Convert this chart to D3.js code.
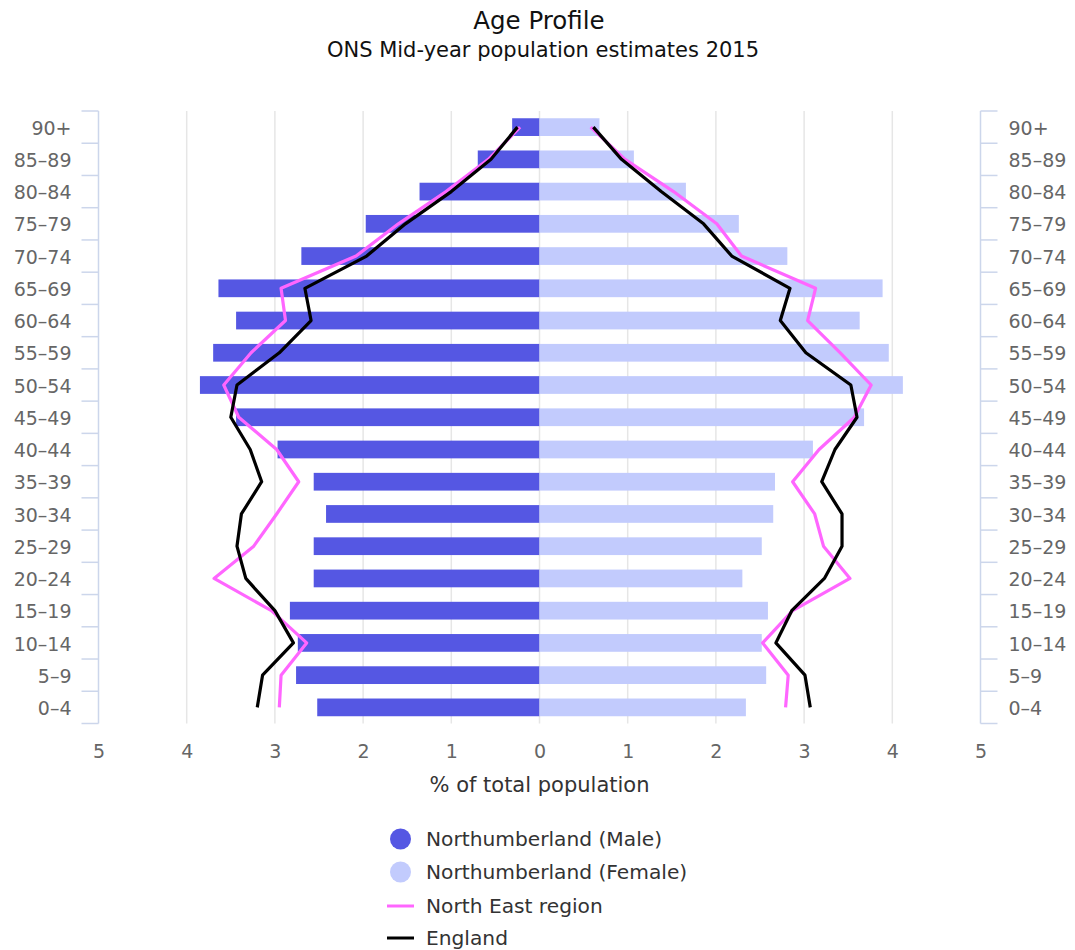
<!DOCTYPE html>
<html><head><meta charset="utf-8">
<script src="https://cdn.jsdelivr.net/npm/d3@7"></script>
<style>body{margin:0;background:#fff;} text{font-family:"DejaVu Sans",sans-serif;}</style>
</head><body>
<svg id="c" width="1075" height="950"></svg>
<script>
const categories = ["0–4","5–9","10–14","15–19","20–24","25–29","30–34","35–39","40–44","45–49","50–54","55–59","60–64","65–69","70–74","75–79","80–84","85–89","90+"];
const maleNorthumberland = [2.52,2.76,2.74,2.83,2.56,2.56,2.42,2.56,2.97,3.44,3.85,3.70,3.44,3.64,2.70,1.97,1.36,0.70,0.31];
const femaleNorthumberland = [2.34,2.57,2.52,2.59,2.30,2.52,2.65,2.67,3.10,3.68,4.12,3.96,3.63,3.89,2.81,2.26,1.66,1.07,0.68];
const maleNorthEast = [2.95,2.93,2.64,3.04,3.69,3.24,2.98,2.73,2.98,3.41,3.58,3.27,2.88,2.93,2.08,1.60,1.06,0.58,0.22];
const femaleNorthEast = [2.79,2.82,2.53,2.87,3.52,3.22,3.12,2.87,3.17,3.57,3.76,3.41,3.04,3.13,2.29,2.01,1.52,0.97,0.58];
const maleEngland = [3.20,3.14,2.79,3.00,3.33,3.43,3.38,3.15,3.28,3.50,3.43,2.95,2.59,2.66,1.96,1.52,1.00,0.55,0.25];
const femaleEngland = [3.07,3.01,2.68,2.86,3.23,3.43,3.43,3.20,3.35,3.60,3.53,3.02,2.73,2.84,2.18,1.86,1.38,0.93,0.61];
const xTicks = [-5,-4,-3,-2,-1,0,1,2,3,4,5];
const legendItems = ["Northumberland (Male)","Northumberland (Female)","North East region","England"];

const colMale="#5557e3", colFemale="#c2cbfd", colNE="#ff66ff", colEng="#000000";
const svg=d3.select("#c");
const L=98.5,R=980.5,T=111,B=723.5;
const x=d3.scaleLinear().domain([-5,5]).range([L,R]);
const y=d3.scaleBand().domain(categories.slice().reverse()).range([T,B]).padding(0);
const bh=y.bandwidth()*0.55;
const yc=c=>y(c)+y.bandwidth()/2;

// gridlines
svg.append("g").selectAll("line").data(xTicks.filter(t=>Math.abs(t)<5)).join("line")
  .attr("x1",d=>x(d)).attr("x2",d=>x(d)).attr("y1",T).attr("y2",B)
  .attr("stroke","#e6e6e6").attr("stroke-width",1.5);

// left axis
const la=svg.append("g").attr("transform",`translate(${x(-5)},1.5)`)
  .call(d3.axisLeft(y).tickSize(0).tickPadding(27));
la.select(".domain").remove();
la.selectAll("text").attr("fill","#666").attr("font-size",19).attr("font-family","DejaVu Sans");
// right axis
const ra=svg.append("g").attr("transform",`translate(${x(5)},1.5)`)
  .call(d3.axisRight(y).tickSize(0).tickPadding(28));
ra.select(".domain").remove();
ra.selectAll("text").attr("fill","#666").attr("font-size",19).attr("font-family","DejaVu Sans");
// axis lines and boundary ticks
const bounds=categories.map(c=>y(c)).concat([B]);
[[x(-5),-17],[x(5),17]].forEach(([ax,dx])=>{
  svg.append("line").attr("x1",ax).attr("x2",ax).attr("y1",T).attr("y2",B).attr("stroke","#ccd6eb").attr("stroke-width",1.5);
  svg.append("g").selectAll("line").data(bounds).join("line")
    .attr("x1",ax).attr("x2",ax+dx).attr("y1",d=>d).attr("y2",d=>d)
    .attr("stroke","#ccd6eb").attr("stroke-width",1.5);
});

// bars
svg.append("g").selectAll("rect").data(categories).join("rect")
  .attr("x",(c,i)=>x(-maleNorthumberland[i])).attr("width",(c,i)=>x(0)-x(-maleNorthumberland[i]))
  .attr("y",c=>yc(c)-bh/2).attr("height",bh).attr("fill",colMale);
svg.append("g").selectAll("rect").data(categories).join("rect")
  .attr("x",x(0)).attr("width",(c,i)=>x(femaleNorthumberland[i])-x(0))
  .attr("y",c=>yc(c)-bh/2).attr("height",bh).attr("fill",colFemale);

// lines
const line=d3.line().x(d=>x(d[0])).y(d=>yc(d[1]));
function drawLine(vals,sign,col){
  svg.append("path").datum(categories.map((c,i)=>[sign*vals[i],c]))
    .attr("d",line).attr("fill","none").attr("stroke",col).attr("stroke-width",3.2)
    .attr("stroke-linejoin","round");
}
drawLine(maleNorthEast,-1,colNE);
drawLine(femaleNorthEast,1,colNE);
drawLine(maleEngland,-1,colEng);
drawLine(femaleEngland,1,colEng);

// bottom axis
const ba=svg.append("g").attr("transform",`translate(0,${B})`)
  .call(d3.axisBottom(x).tickValues(xTicks).tickFormat(d=>Math.abs(d)).tickSize(0).tickPadding(21));
ba.select(".domain").remove();
ba.selectAll("text").attr("fill","#666").attr("font-size",19).attr("font-family","DejaVu Sans");

svg.append("text").attr("x",x(0)).attr("y",792).attr("text-anchor","middle")
  .attr("font-size",21).attr("fill","#333").text("% of total population");

// titles
svg.append("text").attr("x",539).attr("y",29).attr("text-anchor","middle")
  .attr("font-size",24.5).attr("fill","#111").text("Age Profile");
svg.append("text").attr("x",543).attr("y",57).attr("text-anchor","middle")
  .attr("font-size",21).attr("fill","#111").text("ONS Mid-year population estimates 2015");

// legend
const lg=svg.append("g");
const ly=[839,872,906,938];
legendItems.forEach((t,i)=>{
  if(i<2){
    lg.append("circle").attr("cx",400.5).attr("cy",ly[i]).attr("r",10.5).attr("fill",i===0?colMale:colFemale);
  } else {
    lg.append("line").attr("x1",387).attr("x2",414).attr("y1",ly[i]).attr("y2",ly[i])
      .attr("stroke",i===2?colNE:colEng).attr("stroke-width",3);
  }
  lg.append("text").attr("x",426).attr("y",ly[i]).attr("dy","0.35em")
    .attr("font-size",20.2).attr("fill","#333").text(t);
});
</script>
</body></html>
